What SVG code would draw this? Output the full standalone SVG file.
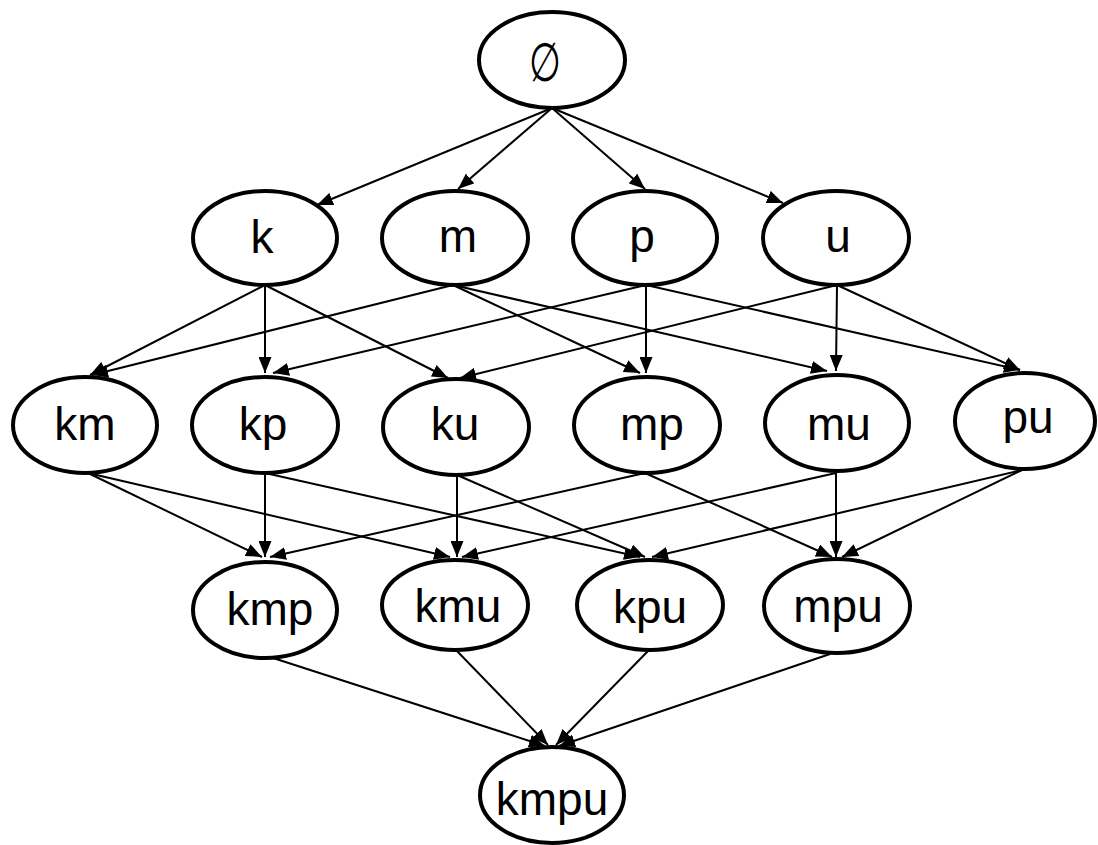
<svg xmlns="http://www.w3.org/2000/svg" width="1098" height="845" viewBox="0 0 1098 845">
<style>
.n ellipse{fill:#fff;stroke:#000;stroke-width:4}
.n text{font-family:"Liberation Sans",Arial,sans-serif;font-size:46px;text-anchor:middle;fill:#000}
.e line{stroke:#000;stroke-width:2;marker-end:url(#a)}
</style>
<defs>
<marker id="a" markerUnits="userSpaceOnUse" markerWidth="16" markerHeight="13" refX="16" refY="6.5" orient="auto">
<path d="M0,0 L16,6.5 L0,13 z" fill="#000"/>
</marker>
</defs>
<rect width="1098" height="845" fill="#fff"/>
<g id="connectors" class="e">
<line x1="552" y1="108" x2="317" y2="205"/>
<line x1="552" y1="108" x2="458" y2="189"/>
<line x1="552" y1="108" x2="645" y2="189"/>
<line x1="552" y1="108" x2="783" y2="203"/>
<line x1="265" y1="285" x2="90" y2="375"/>
<line x1="265" y1="285" x2="265" y2="373"/>
<line x1="265" y1="285" x2="448" y2="378"/>
<line x1="453" y1="285" x2="92" y2="375"/>
<line x1="453" y1="285" x2="640" y2="373"/>
<line x1="453" y1="285" x2="827" y2="371"/>
<line x1="646" y1="285" x2="273" y2="373"/>
<line x1="646" y1="285" x2="646" y2="373"/>
<line x1="646" y1="285" x2="1020" y2="370"/>
<line x1="837" y1="285" x2="460" y2="378"/>
<line x1="837" y1="285" x2="836" y2="371"/>
<line x1="837" y1="285" x2="1020" y2="370"/>
<line x1="88" y1="473" x2="262" y2="557"/>
<line x1="88" y1="473" x2="450" y2="557"/>
<line x1="265" y1="473" x2="265" y2="557"/>
<line x1="265" y1="473" x2="640" y2="557"/>
<line x1="457" y1="475" x2="457" y2="557"/>
<line x1="457" y1="475" x2="645" y2="557"/>
<line x1="645" y1="473" x2="270" y2="557"/>
<line x1="645" y1="473" x2="832" y2="557"/>
<line x1="836" y1="473" x2="462" y2="557"/>
<line x1="836" y1="473" x2="836" y2="557"/>
<line x1="1022" y1="470" x2="652" y2="557"/>
<line x1="1022" y1="470" x2="842" y2="557"/>
<line x1="270" y1="657" x2="545" y2="746"/>
<line x1="457" y1="651" x2="548" y2="745"/>
<line x1="648" y1="651" x2="556" y2="745"/>
<line x1="830" y1="654" x2="559" y2="746"/>
</g>
<g id="n_empty" class="n"><ellipse cx="552" cy="60" rx="73" ry="48"/><text transform="translate(545,81) scale(0.8,1.18)" x="0" y="0">∅</text></g>
<g id="n_k" class="n"><ellipse cx="265" cy="238" rx="72" ry="47"/><text x="262" y="253">k</text></g>
<g id="n_m" class="n"><ellipse cx="455" cy="238" rx="73" ry="47"/><text x="458" y="252">m</text></g>
<g id="n_p" class="n"><ellipse cx="645" cy="238" rx="72" ry="47"/><text x="642" y="252">p</text></g>
<g id="n_u" class="n"><ellipse cx="836" cy="238" rx="73" ry="47"/><text x="838" y="252">u</text></g>
<g id="n_km" class="n"><ellipse cx="85" cy="425" rx="72" ry="48"/><text x="85" y="440">km</text></g>
<g id="n_kp" class="n"><ellipse cx="265" cy="425" rx="73" ry="48"/><text x="263" y="440">kp</text></g>
<g id="n_ku" class="n"><ellipse cx="456" cy="427" rx="73" ry="48"/><text x="455" y="440">ku</text></g>
<g id="n_mp" class="n"><ellipse cx="647" cy="425" rx="73" ry="48"/><text x="652" y="440">mp</text></g>
<g id="n_mu" class="n"><ellipse cx="837" cy="423" rx="72" ry="48"/><text x="839" y="440">mu</text></g>
<g id="n_pu" class="n"><ellipse cx="1025" cy="421" rx="70" ry="48"/><text x="1028" y="433">pu</text></g>
<g id="n_kmp" class="n"><ellipse cx="265" cy="610" rx="72" ry="48"/><text x="270" y="625">kmp</text></g>
<g id="n_kmu" class="n"><ellipse cx="455" cy="605" rx="73" ry="45"/><text x="458" y="622">kmu</text></g>
<g id="n_kpu" class="n"><ellipse cx="650" cy="605" rx="73" ry="45"/><text x="650" y="623">kpu</text></g>
<g id="n_mpu" class="n"><ellipse cx="837" cy="606" rx="73" ry="47"/><text x="838" y="622">mpu</text></g>
<g id="n_kmpu" class="n"><ellipse cx="552" cy="795" rx="72" ry="48"/><text x="552" y="815">kmpu</text></g>
</svg>
